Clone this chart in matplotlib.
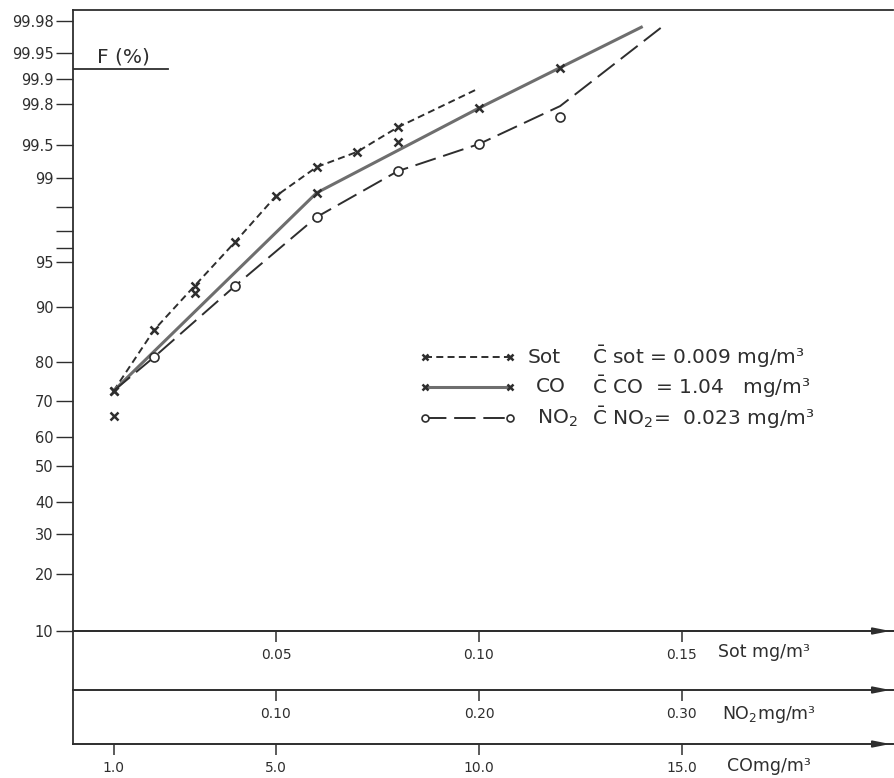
import numpy as np
import matplotlib as mpl
mpl.use("Agg")
import matplotlib.pyplot as plt
from math import erfc, sqrt

mpl.rc('font', family='DejaVu Sans', size=11)
mpl.rc('mathtext', fontset='dejavusans')

INK = '#2e2e2e'

# x values are read on the CO scale (mg/m3); Sot = CO/100, NO2 = CO/50
sot_x = [1, 2, 3, 4, 5, 6, 7, 8]
sot_f = [72.8, 86.4, 92.7, 96.4, 98.45, 99.2, 99.42, 99.66]
sot_line_x = [1, 2, 3, 4, 5, 6, 7, 8, 10]
sot_line_f = [72.8, 86.4, 92.7, 96.4, 98.45, 99.2, 99.42, 99.66, 99.87]

co_x = [1, 1, 3, 6, 8, 10, 12]
co_f = [72.8, 66.0, 91.8, 98.56, 99.53, 99.78, 99.925]
co_line_x = [1, 6, 10, 14]
co_line_f = [72.8, 98.56, 99.78, 99.976]

no2_x = [2, 4, 6, 8, 10, 12]
no2_f = [81.1, 92.7, 97.62, 99.13, 99.51, 99.73]
no2_line_x = [1, 2, 4, 6, 8, 10, 12, 14.5]
no2_line_f = [72.8, 81.1, 92.7, 97.62, 99.13, 99.51, 99.79, 99.976]

f_ticks = [10, 20, 30, 40, 50, 60, 70, 80, 90, 95, 96, 97, 98,
           99, 99.5, 99.8, 99.9, 99.95, 99.98]
f_labels = ['10', '20', '30', '40', '50', '60', '70', '80', '90', '95', '', '', '',
            '99', '99.5', '99.8', '99.9', '99.95', '99.98']

sot_ticks = [0.05, 0.10, 0.15]
no2_ticks = [0.10, 0.20, 0.30]
co_ticks = [1.0, 5.0, 10.0, 15.0]

legend_names = ['Sot', 'CO', 'NO$_2$']
legend_means = [r'$\bar{\mathrm{C}}$ sot = 0.009 mg/m³',
                r'$\bar{\mathrm{C}}$ CO  = 1.04   mg/m³',
                r'$\bar{\mathrm{C}}$ NO$_2$=  0.023 mg/m³']

# hand ruled probability paper: height of each F line above the 10 % line
paper_f = f_ticks + [99.99]
paper_pos = [0, 57, 97, 129, 165, 194, 230, 269, 324, 369, 383, 400, 424,
             453, 486, 527, 552, 578, 610, 621]

_z = np.linspace(-6, 6, 4001)
_p = np.array([50 * erfc(-v / sqrt(2)) for v in _z])
paper_z = np.interp(paper_f, _p, _z)


def fwd(f):
    return np.interp(np.interp(f, _p, _z), paper_z, paper_pos)


def inv(y):
    return np.interp(np.interp(y, paper_pos, paper_z), _z, _p)


W, H = 895, 778
fig = plt.figure(figsize=(W / 100, H / 100), dpi=100)
ax = fig.add_axes([73 / W, (H - 631) / H, (893 - 73) / W, (631 - 10) / H])
ax.set_yscale('function', functions=(fwd, inv))
ax.set_ylim(10, 99.99)
ax.set_xlim(0, 20.2)

styles = {
    'sot': dict(color=INK, lw=1.4, ls=(0, (3.6, 2.2))),
    'co': dict(color='#6e6e6e', lw=2.2, ls='-'),
    'no2': dict(color=INK, lw=1.4, ls=(0, (11, 4))),
}
marks = {
    'sot': dict(marker='x', ms=6, mew=1.8, color=INK, ls='none'),
    'co': dict(marker='x', ms=6, mew=1.8, color=INK, ls='none'),
    'no2': dict(marker='o', ms=6.5, mew=1.2, mfc='white', mec=INK, ls='none'),
}

ax.plot(sot_line_x, sot_line_f, **styles['sot'])
ax.plot(co_line_x, co_line_f, **styles['co'])
ax.plot(no2_line_x, no2_line_f, **styles['no2'])
ax.plot(sot_x, sot_f, **marks['sot'])
ax.plot(co_x, co_f, **marks['co'])
ax.plot(no2_x, no2_f, **marks['no2'], zorder=3)

ax.set_yticks(f_ticks, f_labels)
ax.yaxis.set_minor_locator(mpl.ticker.NullLocator())
ax.tick_params(axis='y', direction='out', length=12, width=1.0, pad=2,
               labelsize=10.5, colors=INK)
ax.set_xticks([])
ax.spines['right'].set_visible(False)
for s in ['left', 'top', 'bottom']:
    ax.spines[s].set_color(INK)
    ax.spines[s].set_linewidth(1.3)
ax.plot([0, 0], [0, -0.182], transform=ax.transAxes, clip_on=False,
        color=INK, lw=1.3)

# three concentration scales under the plot
scales = [
    (0.0, (lambda c: c / 100, lambda s: s * 100), sot_ticks, '%.2f', 'Sot mg/m³', 0.787, -0.034),
    (-0.095, (lambda c: c / 50, lambda n: n * 50), no2_ticks, '%.2f', 'NO$_2$mg/m³', 0.792, -0.134),
    (-0.182, (lambda c: c, lambda c: c), co_ticks, '%.1f', 'COmg/m³', 0.798, -0.218),
]
for loc, funcs, ticks, fmt, unit, ux, uy in scales:
    sec = ax.secondary_xaxis(loc, functions=funcs)
    sec.set_xticks(ticks, [fmt % t for t in ticks])
    sec.tick_params(length=8, width=1.1, pad=4, labelsize=10, colors=INK)
    sec.spines['top'].set_visible(False)
    sec.spines['bottom'].set_color(INK)
    sec.spines['bottom'].set_linewidth(1.4)
    ax.annotate('', xy=(1.0, loc), xytext=(0.975, loc), xycoords='axes fraction',
                arrowprops=dict(arrowstyle='-|>,head_length=0.9,head_width=0.18',
                                color=INK, lw=1.3))
    ax.text(ux, uy, unit, transform=ax.transAxes, fontsize=12.5, color=INK,
            va='center', ha='left')

ax.text(0.029, 0.924, 'F (%)', transform=ax.transAxes, fontsize=14.5,
        color=INK, va='center', ha='left')
ax.plot([0, 0.116], [0.905, 0.905], transform=ax.transAxes, color=INK, lw=1.3)

# legend drawn by hand as on the original sheet
rows_y = [0.441, 0.393, 0.343]
name_x = [0.554, 0.565, 0.566]
for key, ry, nx, name, mean in zip(['sot', 'co', 'no2'], rows_y, name_x,
                                   legend_names, legend_means):
    ax.plot([0.429, 0.533], [ry, ry], transform=ax.transAxes, clip_on=False,
            **styles[key])
    m = dict(marks[key])
    m['ms'] = m['ms'] - 1.5
    ax.plot([0.429, 0.533], [ry, ry], transform=ax.transAxes, clip_on=False, **m)
    ax.text(nx, ry, name, transform=ax.transAxes, fontsize=14.5, color=INK,
            va='center', ha='left')
    ax.text(0.633, ry, mean, transform=ax.transAxes, fontsize=14.5, color=INK,
            va='center', ha='left')

fig.savefig('out.png', dpi=100)
